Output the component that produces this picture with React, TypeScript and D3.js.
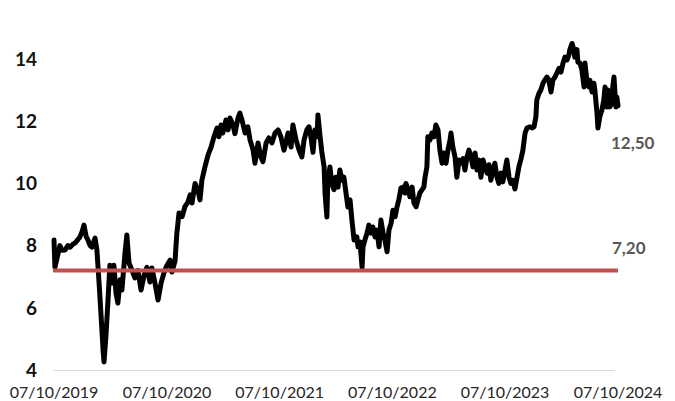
import React from "react";
import * as d3 from "d3";

// price history
const dates = [
  "2019-10-07", "2019-10-10", "2019-10-17", "2019-10-26", "2019-11-02", "2019-11-12", "2019-11-21", "2019-11-28",
  "2019-12-08", "2019-12-14", "2019-12-24", "2019-12-30", "2020-01-06", "2020-01-12", "2020-01-19", "2020-01-25",
  "2020-02-01", "2020-02-07", "2020-02-17", "2020-02-23", "2020-03-01", "2020-03-07", "2020-03-14", "2020-03-17",
  "2020-03-23", "2020-03-30", "2020-04-05", "2020-04-12", "2020-04-18", "2020-04-25", "2020-05-01", "2020-05-08",
  "2020-05-14", "2020-05-24", "2020-05-30", "2020-06-06", "2020-06-16", "2020-06-25", "2020-07-05", "2020-07-15",
  "2020-07-25", "2020-08-03", "2020-08-13", "2020-08-19", "2020-08-29", "2020-09-08", "2020-09-18", "2020-09-27",
  "2020-10-07", "2020-10-17", "2020-10-23", "2020-11-02", "2020-11-08", "2020-11-15", "2020-11-25", "2020-12-04",
  "2020-12-14", "2020-12-21", "2020-12-27", "2021-01-06", "2021-01-15", "2021-01-22", "2021-01-28", "2021-02-07",
  "2021-02-17", "2021-02-27", "2021-03-08", "2021-03-18", "2021-03-24", "2021-03-31", "2021-04-06", "2021-04-16",
  "2021-04-23", "2021-04-29", "2021-05-09", "2021-05-15", "2021-05-25", "2021-05-31", "2021-06-07", "2021-06-17",
  "2021-06-26", "2021-07-03", "2021-07-13", "2021-07-19", "2021-07-29", "2021-08-07", "2021-08-14", "2021-08-24",
  "2021-09-02", "2021-09-12", "2021-09-22", "2021-10-02", "2021-10-11", "2021-10-21", "2021-10-27", "2021-11-03",
  "2021-11-13", "2021-11-19", "2021-11-29", "2021-12-09", "2021-12-18", "2021-12-25", "2022-01-03", "2022-01-10",
  "2022-01-16", "2022-01-23", "2022-01-29", "2022-02-05", "2022-02-08", "2022-02-15", "2022-02-21", "2022-02-28",
  "2022-03-03", "2022-03-09", "2022-03-12", "2022-03-19", "2022-03-25", "2022-04-01", "2022-04-07", "2022-04-14",
  "2022-04-20", "2022-04-27", "2022-05-03", "2022-05-10", "2022-05-16", "2022-05-23", "2022-05-29", "2022-06-05",
  "2022-06-14", "2022-06-18", "2022-06-24", "2022-07-01", "2022-07-04", "2022-07-10", "2022-07-17", "2022-07-23",
  "2022-07-30", "2022-08-05", "2022-08-12", "2022-08-18", "2022-08-25", "2022-08-31", "2022-09-07", "2022-09-13",
  "2022-09-20", "2022-09-26", "2022-10-03", "2022-10-09", "2022-10-16", "2022-10-22", "2022-10-28", "2022-11-04",
  "2022-11-10", "2022-11-17", "2022-11-20", "2022-11-27", "2022-12-03", "2022-12-10", "2022-12-16", "2022-12-23",
  "2022-12-29", "2023-01-04", "2023-01-11", "2023-01-17", "2023-01-21", "2023-01-27", "2023-01-30", "2023-02-06",
  "2023-02-12", "2023-02-19", "2023-02-25", "2023-03-04", "2023-03-10", "2023-03-17", "2023-03-23", "2023-03-30",
  "2023-04-05", "2023-04-12", "2023-04-15", "2023-04-21", "2023-04-28", "2023-05-04", "2023-05-11", "2023-05-17",
  "2023-05-24", "2023-05-30", "2023-06-06", "2023-06-12", "2023-06-19", "2023-06-25", "2023-07-02", "2023-07-08",
  "2023-07-15", "2023-07-21", "2023-07-28", "2023-08-03", "2023-08-10", "2023-08-16", "2023-08-22", "2023-08-29",
  "2023-09-04", "2023-09-11", "2023-09-17", "2023-09-24", "2023-09-30", "2023-10-07", "2023-10-13", "2023-10-20",
  "2023-10-26", "2023-11-02", "2023-11-08", "2023-11-15", "2023-11-21", "2023-11-28", "2023-12-04", "2023-12-11",
  "2023-12-17", "2023-12-27", "2024-01-02", "2024-01-09", "2024-01-15", "2024-01-18", "2024-01-25", "2024-01-31",
  "2024-02-07", "2024-02-13", "2024-02-20", "2024-02-26", "2024-03-04", "2024-03-10", "2024-03-17", "2024-03-23",
  "2024-03-30", "2024-04-05", "2024-04-12", "2024-04-18", "2024-04-25", "2024-05-01", "2024-05-04", "2024-05-11",
  "2024-05-17", "2024-05-20", "2024-05-27", "2024-05-30", "2024-06-06", "2024-06-12", "2024-06-19", "2024-06-22",
  "2024-06-28", "2024-07-05", "2024-07-08", "2024-07-15", "2024-07-21", "2024-07-24", "2024-07-31", "2024-08-03",
  "2024-08-09", "2024-08-16", "2024-08-22", "2024-08-26", "2024-09-01", "2024-09-04", "2024-09-11", "2024-09-17",
  "2024-09-20", "2024-09-24", "2024-09-30", "2024-10-03", "2024-10-07",
];

const prices = [
  8.18, 7.3, 7.6, 8.0, 7.85, 7.86, 8.0, 7.95,
  8.05, 8.08, 8.2, 8.28, 8.45, 8.66, 8.3, 8.18,
  8.0, 7.95, 8.24, 7.86, 6.8, 5.83, 4.64, 4.26,
  5.06, 6.25, 7.37, 6.8, 7.37, 6.47, 6.15, 6.9,
  6.57, 7.76, 8.34, 7.44, 7.2, 6.96, 7.2, 6.57,
  7.05, 7.3, 6.83, 7.28, 6.8, 6.25, 6.8, 7.12,
  7.37, 7.53, 7.15, 7.5, 8.4, 9.05, 8.93, 9.25,
  9.4, 9.63, 9.37, 10.0, 9.79, 9.47, 10.1, 10.53,
  10.91, 11.17, 11.49, 11.78, 11.5, 11.88, 11.62, 12.04,
  11.72, 12.1, 11.88, 11.6, 12.1, 12.26, 12.04, 11.62,
  11.82, 11.4, 11.07, 10.65, 11.3, 10.85, 10.7, 11.3,
  11.46, 11.3, 11.62, 11.72, 11.5, 11.07, 11.3, 11.62,
  11.17, 11.88, 11.4, 11.07, 10.85, 11.4, 11.72, 11.82,
  11.5, 11.0, 11.72, 11.5, 12.2, 11.5, 10.98, 10.53,
  9.69, 8.92, 10.1, 10.53, 10.0, 9.8, 10.2, 9.88,
  10.43, 10.1, 10.2, 9.69, 9.24, 9.47, 8.82, 8.18,
  8.28, 7.96, 8.12, 7.3, 7.96, 8.18, 8.4, 8.66,
  8.4, 8.6, 8.28, 8.5, 7.96, 8.82, 8.4, 8.18,
  7.8, 8.5, 8.72, 9.14, 8.93, 9.24, 9.47, 9.85,
  9.88, 9.69, 10.0, 9.79, 9.57, 9.88, 9.37, 9.25,
  9.47, 9.69, 9.79, 9.88, 10.2, 10.53, 11.5, 11.4,
  11.62, 11.5, 11.88, 11.72, 11.07, 10.65, 10.98, 10.65,
  11.07, 11.4, 11.62, 11.17, 10.85, 10.2, 10.75, 10.65,
  10.8, 10.43, 10.85, 11.07, 10.85, 10.53, 10.98, 10.43,
  10.75, 10.2, 10.75, 10.53, 10.33, 10.6, 10.1, 10.43,
  10.65, 10.2, 10.0, 10.33, 10.05, 10.43, 10.75, 10.2,
  10.0, 10.1, 9.82, 10.2, 10.53, 10.8, 11.07, 11.62,
  11.78, 11.82, 11.78, 11.82, 12.14, 12.68, 12.9, 13.0,
  13.22, 13.32, 13.42, 13.32, 12.94, 13.32, 13.42, 13.55,
  13.7, 13.58, 13.87, 14.06, 13.97, 14.13, 14.3, 14.5,
  14.3, 14.06, 14.3, 13.9, 13.87, 13.65, 13.1, 13.87,
  13.32, 13.1, 13.32, 12.94, 13.22, 13.0, 12.26, 11.78,
  12.14, 12.36, 12.68, 13.1, 12.46, 13.0, 12.46, 12.6,
  13.1, 13.42, 12.46, 12.78, 12.5,
];

const yTicks = [4, 6, 8, 10, 12, 14];
const xTicks = ["2019-10-07", "2020-10-07", "2021-10-07", "2022-10-07", "2023-10-07", "2024-10-07"];
const refLevel = 7.2;
const lastLabel = "12,50";
const refLabel = "7,20";

const W = 675;
const H = 401;

export default function App() {
  const parse = d3.timeParse("%Y-%m-%d");
  const fmt = d3.timeFormat("%d/%m/%Y");
  const data = dates.map((d, i) => ({ date: parse(d) as Date, value: prices[i] }));

  const x = d3.scaleTime()
    .domain([parse(xTicks[0]) as Date, parse(xTicks[xTicks.length - 1]) as Date])
    .range([54, 618]);
  const y = d3.scaleLinear().domain([4, 14]).range([370, 59]);

  const line = d3.line<{ date: Date; value: number }>()
    .x((d) => x(d.date))
    .y((d) => y(d.value));

  const font = "Lato, 'Open Sans', sans-serif";

  return (
    <svg width={W} height={H} style={{ position: "absolute", left: 0, top: 0, background: "#fff" }}>
      {/* baseline */}
      <line x1={53} x2={615} y1={y(4) + 0.5} y2={y(4) + 0.5} stroke="#d9d9d9" strokeWidth={1} />

      {yTicks.map((t) => (
        <text key={t} x={37} y={y(t)} dy="0.36em" textAnchor="end"
          fontFamily={font} fontWeight="bold" fontSize={19} fill="#111">
          {t}
        </text>
      ))}

      {xTicks.map((t) => (
        <text key={t} x={x(parse(t) as Date)} y={392} dy="0.35em" textAnchor="middle"
          fontFamily={font} fontSize={16} fill="#262626">
          {fmt(parse(t) as Date)}
        </text>
      ))}

      <path d={line(data) || ""} fill="none" stroke="#000" strokeWidth={5}
        strokeLinejoin="round" strokeLinecap="round" />

      <line x1={53} x2={618} y1={y(refLevel)} y2={y(refLevel)} stroke="#c0504d" strokeWidth={4} />

      <text x={611} y={143} dy="0.35em" fontFamily={font} fontWeight="bold" fontSize={17} fill="#595959">
        {lastLabel}
      </text>
      <text x={612} y={248} dy="0.35em" fontFamily={font} fontWeight="bold" fontSize={17} fill="#595959">
        {refLabel}
      </text>
    </svg>
  );
}
